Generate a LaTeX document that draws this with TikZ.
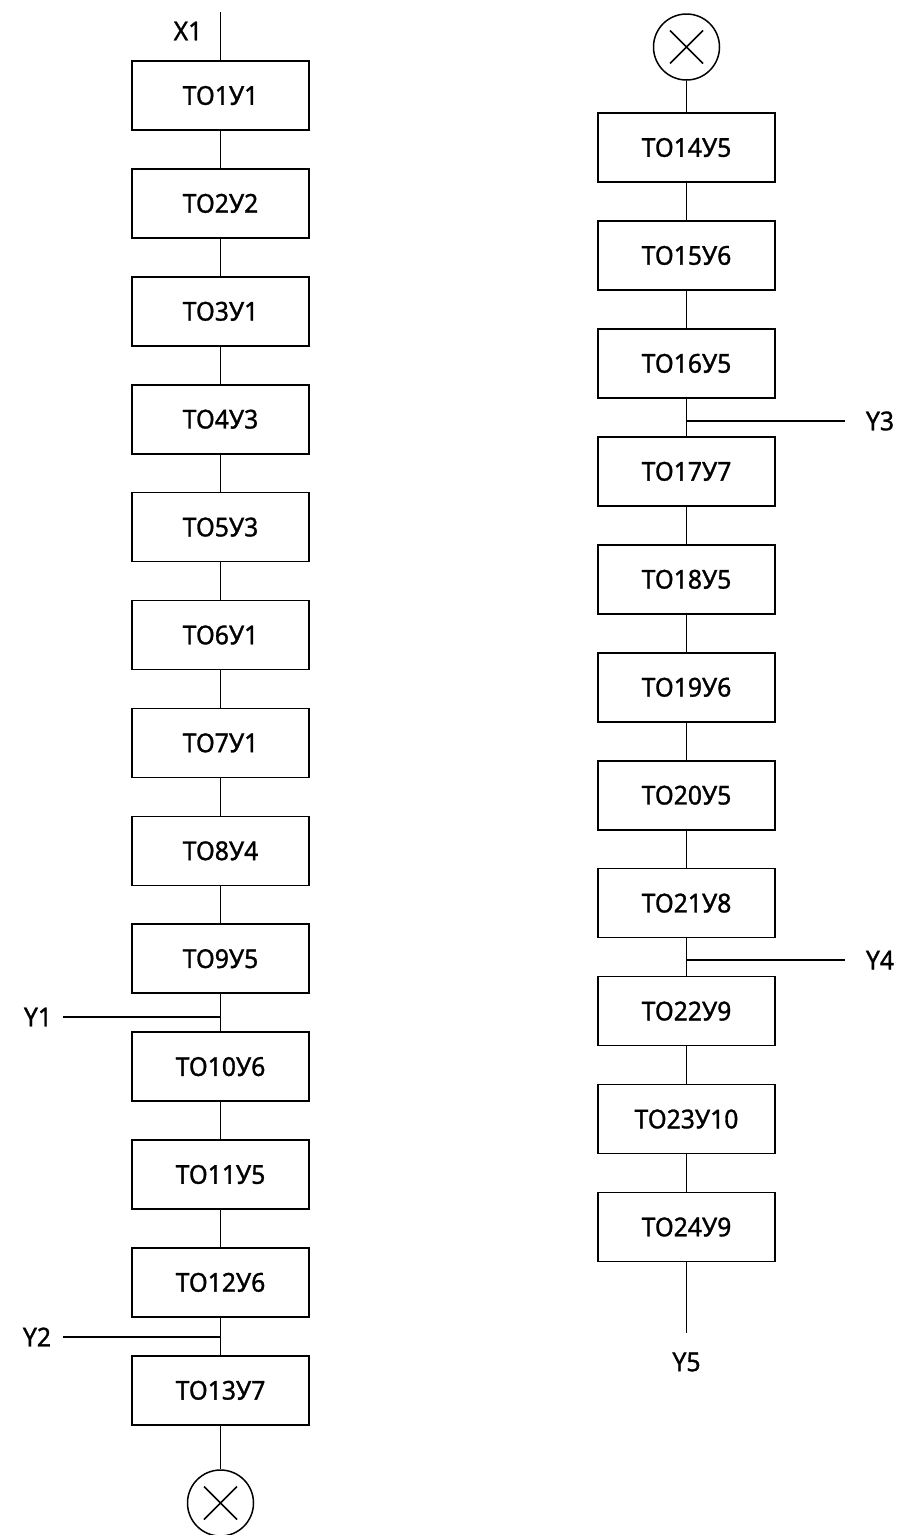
\documentclass[tikz,border=0pt]{standalone}
\usepackage{fontspec}
\setmainfont[FakeBold=1.2,FakeStretch=0.95]{Noto Sans}
\begin{document}
\begin{tikzpicture}[x=1pt,y=-1pt,
  stepbox/.style={draw, line width=1.6pt, minimum width=177pt, minimum height=69pt,
    inner sep=0pt, font=\fontsize{26}{30}\selectfont},
  wire/.style={line width=1.8pt},
  lbl/.style={inner sep=0pt, font=\fontsize{26}{30}\selectfont},
  joint/.style={draw, circle, line width=1.5pt, minimum size=66pt, inner sep=0pt,
    path picture={\draw[line width=1.5pt]
      ([shift={(-16.5pt,-16.5pt)}]path picture bounding box.center) --
      ([shift={(16.5pt,16.5pt)}]path picture bounding box.center)
      ([shift={(-16.5pt,16.5pt)}]path picture bounding box.center) --
      ([shift={(16.5pt,-16.5pt)}]path picture bounding box.center);}}]
\useasboundingbox (0,0) rectangle (902,1535);

% left chain of operations
\foreach \t [count=\i] in {ТО1У1,ТО2У2,ТО3У1,ТО4У3,ТО5У3,ТО6У1,ТО7У1,ТО8У4,ТО9У5,ТО10У6,ТО11У5,ТО12У6,ТО13У7}
  \node[stepbox] (l\i) at (220.5,{95.5+107.9*(\i-1)}) {\t};
\foreach \i [evaluate=\i as \j using int(\i+1)] in {1,...,12}
  \draw[wire] (l\i.south) -- (l\j.north);

% right chain of operations
\foreach \t [count=\i from 14] in {ТО14У5,ТО15У6,ТО16У5,ТО17У7,ТО18У5,ТО19У6,ТО20У5,ТО21У8,ТО22У9,ТО23У10,ТО24У9}
  \node[stepbox] (r\i) at (686.5,{147.5+107.95*(\i-14)}) {\t};
\foreach \i [evaluate=\i as \j using int(\i+1)] in {14,...,23}
  \draw[wire] (r\i.south) -- (r\j.north);

% input and off-page connectors
\coordinate (xtop) at (220.5,12);
\node[lbl] (x1) at (188,31) {X1};
\draw[wire] (xtop) -- (l1.north);

\node[joint] (cl) at (220.5,1503) {};
\draw[wire] (l13.south) -- (cl.north);
\node[joint] (cr) at (686.5,47) {};
\draw[wire] (cr.south) -- (r14.north);

% side outputs
\coordinate (j1) at (220.5,1017);
\coordinate (e1) at (63,1017);
\node[lbl] (y1) at (38,1017) {Y1};
\draw[wire] (e1) -- (j1);

\coordinate (j2) at (220.5,1337);
\coordinate (e2) at (63,1337);
\node[lbl] (y2) at (37,1337) {Y2};
\draw[wire] (e2) -- (j2);

\coordinate (j3) at (686.5,421);
\coordinate (e3) at (845,421);
\node[lbl] (y3) at (880,421) {Y3};
\draw[wire] (j3) -- (e3);

\coordinate (j4) at (686.5,960);
\coordinate (e4) at (845,960);
\node[lbl] (y4) at (880,960) {Y4};
\draw[wire] (j4) -- (e4);

% final output
\coordinate (e5) at (686.5,1333);
\node[lbl] (y5) at (686.5,1362) {Y5};
\draw[wire] (r24.south) -- (e5);
\end{tikzpicture}
\end{document}
